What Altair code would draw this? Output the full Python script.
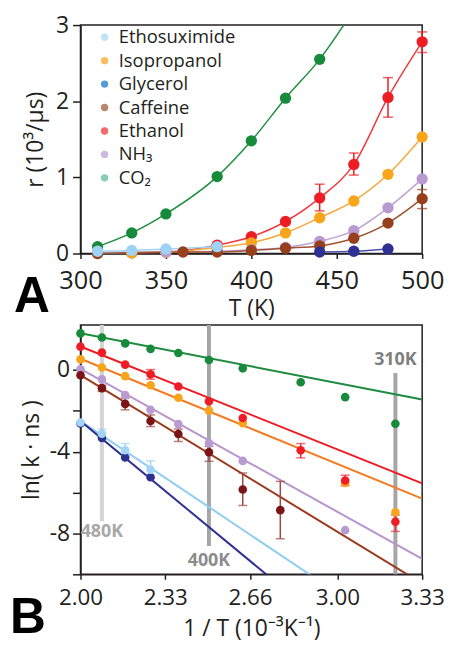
import altair as alt
import pandas as pd

FONT = "Open Sans"
INK = "#231f20"

# ---------------- Panel A : r (10^3/us) vs T (K) ----------------
a_series = ["CO₂", "Ethanol", "Isopropanol", "NH₃", "Caffeine", "Ethosuximide", "Glycerol"]
a_T = {
    "CO₂": [310, 330, 350, 380, 400, 420, 440, 460],
    "Ethanol": [310, 330, 350, 380, 400, 420, 440, 460, 480, 500],
    "Isopropanol": [310, 330, 350, 380, 400, 420, 440, 460, 480, 500],
    "NH₃": [310, 350, 380, 400, 420, 440, 460, 480, 500],
    "Caffeine": [310, 360, 380, 400, 420, 440, 460, 480, 500],
    "Ethosuximide": [310, 330, 350, 380],
    "Glycerol": [440, 460, 480],
}
a_r = {
    "CO₂": [0.09, 0.27, 0.52, 1.01, 1.48, 2.04, 2.55, 3.20],
    "Ethanol": [0.01, 0.01, 0.02, 0.11, 0.22, 0.42, 0.73, 1.17, 2.05, 2.78],
    "Isopropanol": [0.005, 0.01, 0.015, 0.08, 0.14, 0.27, 0.47, 0.69, 1.04, 1.53],
    "NH₃": [0.01, 0.02, 0.03, 0.05, 0.08, 0.16, 0.30, 0.60, 0.98],
    "Caffeine": [0.0, 0.02, 0.02, 0.04, 0.07, 0.10, 0.20, 0.40, 0.72],
    "Ethosuximide": [0.03, 0.04, 0.06, 0.09],
    "Glycerol": [0.02, 0.03, 0.06],
}
a_point_color = {"CO₂": "#178a3c", "Ethanol": "#ee1d25", "Isopropanol": "#f9a51b", "NH₃": "#b89ad1",
                 "Caffeine": "#97401d", "Ethosuximide": "#9fd3f5", "Glycerol": "#2e3192"}
a_line_color = {"CO₂": "#1f9040", "Ethanol": "#ef3b3f", "Isopropanol": "#f7a83a", "NH₃": "#c0a3d6",
                "Caffeine": "#a0512f", "Ethosuximide": "#9fd3f5", "Glycerol": "#4a4fa8"}

a_err_series = ["Ethanol", "Ethanol", "Ethanol", "Ethanol", "Caffeine"]
a_err_T = [440, 460, 480, 500, 500]
a_err_lo = [0.56, 1.03, 1.79, 2.64, 0.59]
a_err_hi = [0.91, 1.32, 2.31, 2.91, 0.84]
a_err_color = {"Ethanol": "#ee1d25", "Caffeine": "#97401d"}

legend_names = ["Ethosuximide", "Isopropanol", "Glycerol", "Caffeine", "Ethanol", "NH₃", "CO₂"]
legend_colors = ["#a7d6f4", "#f9a31e", "#0c74c4", "#9b5234", "#ee2a2d", "#b69dd0", "#4cbb8c"]

a_x_ticks = [300, 350, 400, 450, 500]
a_y_ticks = [0, 1, 2, 3]

# ---------------- Panel B : ln(k ns) vs 1/T ----------------
b_series = ["CO₂", "Isopropanol", "Ethanol", "NH₃", "Caffeine", "Glycerol", "Ethosuximide"]
b_T = {
    "CO₂": [500, 480, 460, 440, 420, 400, 380, 350, 330, 310],
    "Isopropanol": [500, 480, 460, 440, 420, 400, 380, 330, 310],
    "Ethanol": [500, 480, 460, 440, 420, 400, 380, 350, 330, 310],
    "NH₃": [500, 480, 460, 440, 420, 400, 380, 330],
    "Caffeine": [500, 480, 460, 440, 420, 400, 380, 360],
    "Glycerol": [500, 480, 460, 440],
    "Ethosuximide": [500, 480, 460, 440],
}
b_lnk = {
    "CO₂": [1.79, 1.59, 1.30, 1.03, 0.83, 0.49, 0.08, -0.60, -1.33, -2.63],
    "Isopropanol": [0.52, 0.12, -0.30, -0.75, -1.36, -1.99, -2.60, -5.53, -6.96],
    "Ethanol": [1.14, 0.85, 0.26, -0.21, -0.81, -1.53, -2.35, -3.93, -5.41, -7.43],
    "NH₃": [0.03, -0.46, -1.23, -1.95, -2.65, -3.58, -4.45, -7.84],
    "Caffeine": [-0.26, -0.89, -1.66, -2.50, -3.13, -4.03, -5.85, -6.86],
    "Glycerol": [-2.62, -3.33, -4.28, -5.25],
    "Ethosuximide": [-2.57, -3.12, -3.93, -4.88],
}
b_point_color = {"CO₂": "#178a3c", "Isopropanol": "#f9a51b", "Ethanol": "#ee1d25", "NH₃": "#b99bd2",
                 "Caffeine": "#7b1417", "Glycerol": "#2e3192", "Ethosuximide": "#a3d4f5"}

fit_series = ["CO₂", "Ethanol", "Isopropanol", "NH₃", "Caffeine", "Ethosuximide", "Glycerol"]
fit_x0 = [2.0] * 7
fit_x1 = [3.33] * 7
fit_y0 = [1.80, 1.15, 0.55, 0.05, -0.25, -2.50, -2.50]
fit_y1 = [-1.45, -5.55, -6.30, -9.25, -10.45, -13.70, -16.30]
fit_color = {"CO₂": "#1e8c3e", "Ethanol": "#ed1c24", "Isopropanol": "#f47b20", "NH₃": "#b894cf",
             "Caffeine": "#9b3a1c", "Ethosuximide": "#8fcdf2", "Glycerol": "#2e3192"}

b_err_series = ["Ethanol"] * 4 + ["Ethosuximide"] * 3 + ["Caffeine"] * 7
b_err_T = [440, 350, 330, 310, 480, 460, 440, 480, 460, 440, 420, 400, 380, 360]
b_err_lo = [-0.45, -4.30, -5.66, -7.90, -3.30, -4.20, -5.20, -1.05, -1.95, -2.77, -3.50, -4.47, -6.63, -8.26]
b_err_hi = [0.02, -3.60, -5.15, -7.10, -2.90, -3.60, -4.45, -0.75, -1.38, -2.20, -2.89, -3.74, -5.04, -5.45]
b_err_color = {"Ethanol": "#e8303a", "Ethosuximide": "#9fd3f5", "Caffeine": "#a04848"}

ref_label = ["480K", "400K", "310K"]
ref_T = [480, 400, 310]
ref_top = [2.2, 2.2, -0.15]
ref_bottom = [-7.4, -8.62, -10.0]
ref_color = ["#d4d4d4", "#a6a6a6", "#a6a6a6"]
ref_text_color = ["#a8a8a8", "#8c8c8c", "#7f7f7f"]
ref_text_y = [-7.95, -9.35, 0.47]

b_x_ticks = [2.0, 2.33, 2.66, 3.0, 3.33]
b_y_ticks = [-10, -8, -6, -4, -2, 0]

# ---------------- data frames ----------------
a_rows = []
for s in a_series:
    for T, r in zip(a_T[s], a_r[s]):
        a_rows.append({"series": s, "T": T, "r": r, "pc": a_point_color[s], "lc": a_line_color[s]})
dfA = pd.DataFrame(a_rows)
dfAerr = pd.DataFrame({"series": a_err_series, "T": a_err_T, "lo": a_err_lo, "hi": a_err_hi,
                       "c": [a_err_color[s] for s in a_err_series]})
dfLeg = pd.DataFrame({"name": legend_names})

b_rows = []
for s in b_series:
    for T, k in zip(b_T[s], b_lnk[s]):
        b_rows.append({"series": s, "T": T, "lnk": k, "pc": b_point_color[s]})
dfB = pd.DataFrame(b_rows)
fit_rows = []
for s, x0, x1, y0, y1 in zip(fit_series, fit_x0, fit_x1, fit_y0, fit_y1):
    fit_rows.append({"series": s, "x": x0, "y": y0, "c": fit_color[s]})
    fit_rows.append({"series": s, "x": x1, "y": y1, "c": fit_color[s]})
dfFit = pd.DataFrame(fit_rows)
dfBerr = pd.DataFrame({"series": b_err_series, "T": b_err_T, "lo": b_err_lo, "hi": b_err_hi,
                       "c": [b_err_color[s] for s in b_err_series]})
dfRef = pd.DataFrame({"label": ref_label, "T": ref_T, "top": ref_top, "bottom": ref_bottom,
                      "c": ref_color, "tc": ref_text_color, "ty": ref_text_y})

W = 344
HA = 230
HB = 251

# ---------------- Panel A ----------------
xA = alt.X("T:Q", scale=alt.Scale(domain=[300, 500], nice=False),
           axis=alt.Axis(values=a_x_ticks, title="T (K)", labelFlush=False, labelOverlap=False,
                         tickSize=5, labelPadding=10, titlePadding=4, labelFontSize=25.5))
yA = alt.Y("r:Q", scale=alt.Scale(domain=[0, 3], nice=False),
           axis=alt.Axis(values=a_y_ticks, format="d", title="r (10³/µs)", tickSize=8,
                         labelPadding=4, titlePadding=8))

baseA = alt.Chart(dfA)
linesA = baseA.mark_line(clip=True, strokeWidth=1.5, interpolate="monotone").encode(
    x=xA, y=yA, color=alt.Color("lc:N", scale=None), detail="series:N")
pointsA = baseA.transform_filter("datum.r <= 3").mark_circle(size=130, opacity=1).encode(
    x=xA, y=yA, color=alt.Color("pc:N", scale=None))
errA = alt.Chart(dfAerr).mark_rule(strokeWidth=1.5).encode(
    x=xA, y=alt.Y("lo:Q"), y2="hi:Q", color=alt.Color("c:N", scale=None))
capsA = alt.Chart(dfAerr).transform_fold(["lo", "hi"], as_=["end", "v"]).mark_tick(
    orient="horizontal", thickness=1.5, size=10).encode(
    x=xA, y=alt.Y("v:Q"), color=alt.Color("c:N", scale=None))
legendA = alt.Chart(dfLeg).mark_circle(opacity=0).encode(
    color=alt.Color("name:N", scale=alt.Scale(domain=legend_names, range=legend_colors),
                    legend=alt.Legend(orient="none", legendX=15, legendY=3, title=None,
                                      labelFont=FONT, labelFontSize=18.5, labelColor=INK,
                                      symbolType="circle", symbolSize=55, symbolOpacity=1,
                                      symbolStrokeWidth=0, rowPadding=4.6, labelOffset=5,
                                      padding=0)))
letterA = alt.Chart(pd.DataFrame({"t": ["A"]})).mark_text(
    text="A", font="Liberation Sans", fontWeight="bold", fontSize=50, align="left",
    baseline="alphabetic", color="#000000").encode(x=alt.value(-67), y=alt.value(HA + 59))

panelA = alt.layer(linesA, errA, capsA, pointsA, legendA, letterA).properties(width=W, height=HA)

# ---------------- Panel B ----------------
xB_scale = alt.Scale(domain=[2.0, 3.33], nice=False)
xB_axis = alt.Axis(values=b_x_ticks, format=".2f", title="1 / T (10⁻³K⁻¹)", labelFlush=False,
                   labelOverlap=False, tickSize=5, labelPadding=7, titlePadding=9, labelFontSize=22.5)
yB_scale = alt.Scale(domain=[-10, 2.2], nice=False)
yB_axis = alt.Axis(values=b_y_ticks, title="ln( k · ns )", tickSize=8, labelPadding=3, titlePadding=6,
                   labelExpr="datum.value % 4 == 0 ? '' + datum.value : ''")

refB = alt.Chart(dfRef).transform_calculate(ix="1000 / datum.T").mark_rule(strokeWidth=4).encode(
    x=alt.X("ix:Q", scale=xB_scale, axis=xB_axis),
    y=alt.Y("top:Q", scale=yB_scale, axis=yB_axis), y2="bottom:Q",
    color=alt.Color("c:N", scale=None))
refText = alt.Chart(dfRef).transform_calculate(ix="1000 / datum.T").mark_text(
    font=FONT, fontWeight="bold", fontSize=18, align="center", baseline="middle").encode(
    x=alt.X("ix:Q"), y=alt.Y("ty:Q"), text="label:N", color=alt.Color("tc:N", scale=None))
fitB = alt.Chart(dfFit).mark_line(clip=True, strokeWidth=2).encode(
    x=alt.X("x:Q"), y=alt.Y("y:Q"), color=alt.Color("c:N", scale=None), detail="series:N")
errB = alt.Chart(dfBerr).transform_calculate(ix="1000 / datum.T").mark_rule(strokeWidth=1.5).encode(
    x=alt.X("ix:Q"), y=alt.Y("lo:Q"), y2="hi:Q", color=alt.Color("c:N", scale=None))
capsB = alt.Chart(dfBerr).transform_calculate(ix="1000 / datum.T").transform_fold(
    ["lo", "hi"], as_=["end", "v"]).mark_tick(orient="horizontal", thickness=1.5, size=9).encode(
    x=alt.X("ix:Q"), y=alt.Y("v:Q"), color=alt.Color("c:N", scale=None))
pointsB = alt.Chart(dfB).transform_calculate(ix="1000 / datum.T").mark_circle(size=75, opacity=1).encode(
    x=alt.X("ix:Q"), y=alt.Y("lnk:Q"), color=alt.Color("pc:N", scale=None))
letterB = alt.Chart(pd.DataFrame({"t": ["B"]})).mark_text(
    text="B", font="Liberation Sans", fontWeight="bold", fontSize=50, align="left",
    baseline="alphabetic", color="#000000").encode(x=alt.value(-71), y=alt.value(HB + 59))

panelB = alt.layer(refB, fitB, errB, capsB, pointsB, refText, letterB).properties(width=W, height=HB)

chart = alt.vconcat(panelA, panelB, spacing=72, bounds="flush").properties(
    padding={"left": 1, "top": 3, "right": 0, "bottom": 0}
).configure_axis(
    grid=False, labelFont=FONT, titleFont=FONT, labelFontSize=23, titleFontSize=23,
    titleFontWeight="normal", labelColor=INK, titleColor=INK, domainColor=INK, tickColor=INK,
    domainWidth=1.5, tickWidth=1.5
).configure_view(stroke=INK, strokeWidth=1.5)

chart.save("out.html", embed_options={"renderer": "svg", "actions": False})
